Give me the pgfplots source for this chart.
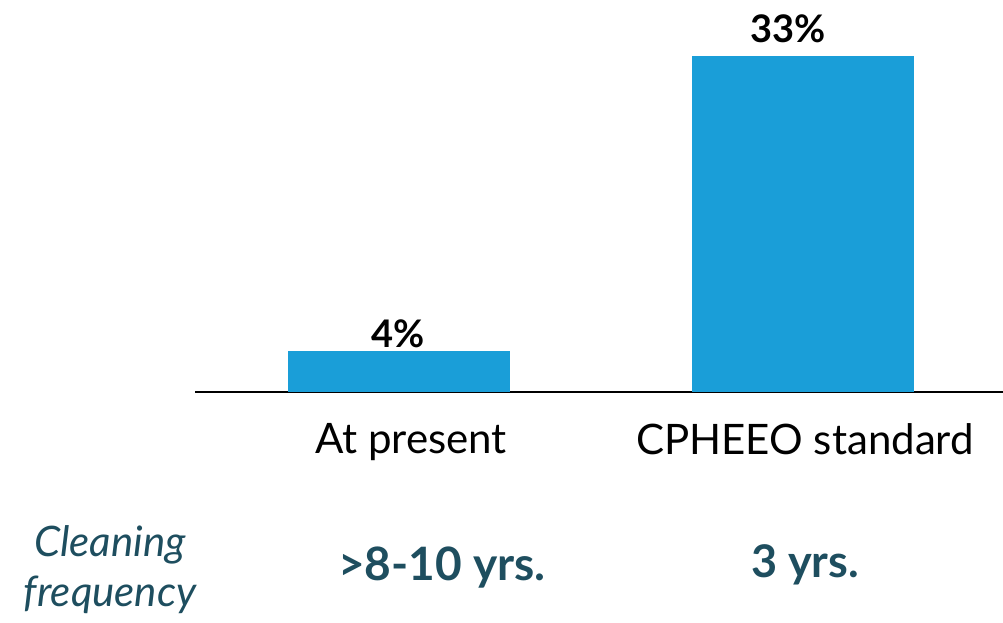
\documentclass[border=0pt]{standalone}
\usepackage{fontspec}
\setmainfont{Lato}
\usepackage{pgfplots}
\pgfplotsset{compat=1.18}
\definecolor{barblue}{RGB}{26,158,216}
\definecolor{teal}{RGB}{30,78,95}
\begin{document}
\begin{tikzpicture}[x=1pt,y=1pt]
\path[use as bounding box] (0,0) rectangle (1003,623);
\begin{axis}[
  at={(195pt,231pt)}, anchor=south west,
  scale only axis, width=808pt, height=336pt,
  xmin=195, xmax=1003, ymin=0, ymax=33,
  axis x line*=bottom, axis y line=none,
  x axis line style={-, line width=1.5pt, black},
  xtick={411,805}, xticklabels={At present, CPHEEO standard},
  xtick style={draw=none},
  xticklabel style={font=\fontsize{42}{48}\selectfont, yshift=-28pt},
  ytick=\empty,
  clip=false,
  /pgf/number format/assume math mode=true,
  every axis plot/.append style={ybar, bar shift=0pt, bar width=222pt, fill=barblue, draw=none,
    nodes near coords={\pgfmathprintnumber{\pgfplotspointmeta}\%}},
]
\addplot[nodes near coords style={font=\bfseries\fontsize{38}{44}\selectfont, black, inner sep=3pt}]
  coordinates {(398.5,4)};
\addplot[nodes near coords style={font=\bfseries\fontsize{38}{44}\selectfont, black, inner sep=3pt, yshift=10pt, xshift=-14pt}]
  coordinates {(802.5,33)};
\end{axis}
\node[font=\itshape\fontsize{42}{50}\selectfont, text=teal, align=center] at (110,53) {Cleaning\\frequency};
\node[font=\bfseries\fontsize{46}{50}\selectfont, text=teal] at (442,55) {>8-10 yrs.};
\node[font=\bfseries\fontsize{45}{50}\selectfont, text=teal] at (805,58) {3 yrs.};
\end{tikzpicture}
\end{document}
